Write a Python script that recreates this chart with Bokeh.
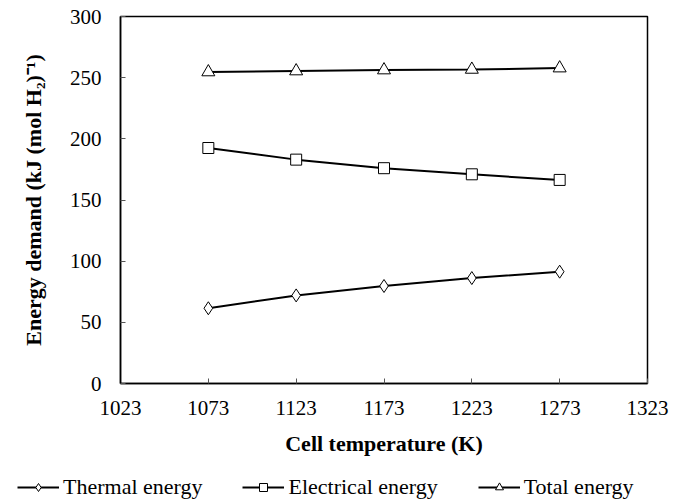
from bokeh.plotting import figure
from bokeh.layouts import column, row
from bokeh.models import FixedTicker, Legend, LegendItem, Range1d
from bokeh.embed import file_html
from bokeh.resources import INLINE

temps = [1073, 1123, 1173, 1223, 1273]
thermal = [61.5, 72.0, 79.7, 86.2, 91.4]
electrical = [192.5, 183.0, 176.0, 171.0, 166.4]
total = [254.6, 255.4, 256.2, 256.7, 257.8]
x_ticks = [1023, 1073, 1123, 1173, 1223, 1273, 1323]
y_ticks = [0, 50, 100, 150, 200, 250, 300]
series = [
    (thermal, "diamond", 13, "Thermal energy"),
    (electrical, "square", 11, "Electrical energy"),
    (total, "triangle", 13, "Total energy"),
]

FONT = "Liberation Serif"

p = figure(width=683, height=460, output_backend="svg", toolbar_location=None,
           x_range=Range1d(1023, 1323), y_range=Range1d(0, 300),
           min_border_left=120, min_border_right=36, min_border_top=16, min_border_bottom=77)
p.xgrid.visible = False
p.ygrid.visible = False
p.outline_line_color = "black"
p.outline_line_width = 1.5
p.background_fill_color = "white"
p.border_fill_color = "white"

for ax in (p.xaxis[0], p.yaxis[0]):
    ax.major_tick_in = 5
    ax.major_tick_out = 0
    ax.minor_tick_in = 0
    ax.minor_tick_out = 0
    ax.axis_line_color = "black"
    ax.axis_line_width = 1.5
    ax.major_tick_line_color = "#555555"
    ax.major_tick_line_width = 1
    ax.major_label_text_font = FONT
    ax.major_label_text_font_size = "21px"
    ax.major_label_text_color = "black"
    ax.axis_label_text_font = FONT
    ax.axis_label_text_font_size = "22px"
    ax.axis_label_text_font_style = "bold"
    ax.axis_label_text_color = "black"

p.xaxis[0].ticker = FixedTicker(ticks=x_ticks)
p.yaxis[0].ticker = FixedTicker(ticks=y_ticks)
p.xaxis[0].major_label_standoff = 17
p.yaxis[0].major_label_standoff = 19
p.xaxis[0].axis_label = "Cell temperature (K)"
p.yaxis[0].axis_label = "Energy demand (kJ (mol H\u2082)\u207b\u00b9)"
p.xaxis[0].axis_label_standoff = 13
p.yaxis[0].axis_label_standoff = 21

# legend strip below the chart
lg = figure(width=683, height=44, output_backend="svg", toolbar_location=None,
            x_range=Range1d(0, 1), y_range=Range1d(0, 1),
            x_axis_location=None, y_axis_location=None,
            min_border_left=0, min_border_right=0, min_border_top=0, min_border_bottom=0)
lg.grid.visible = False
lg.outline_line_color = None
lg.background_fill_color = "white"
lg.border_fill_color = "white"

items = []
for vals, marker, size, label in series:
    p.line(temps, vals, line_color="black", line_width=2)
    p.scatter(temps, vals, marker=marker, size=size, fill_color="white",
              line_color="black", line_width=1)
    # same series in the legend strip (outside its ranges, so only the legend shows)
    r1 = lg.line(temps, vals, line_color="black", line_width=2)
    r2 = lg.scatter(temps, vals, marker=marker, size=size - 2, fill_color="white",
                    line_color="black", line_width=1)
    items.append(LegendItem(label=label, renderers=[r1, r2]))

legend = Legend(items=items, orientation="horizontal", location=(17, 4),
                padding=0, margin=0, spacing=40, glyph_width=42, glyph_height=20,
                label_standoff=4, label_text_font=FONT, label_text_font_size="22px",
                label_text_color="black", border_line_alpha=0, background_fill_alpha=0)
lg.add_layout(legend, "center")

layout = column(p, row(lg), spacing=0)
open("out.html", "w").write(file_html(layout, INLINE))
